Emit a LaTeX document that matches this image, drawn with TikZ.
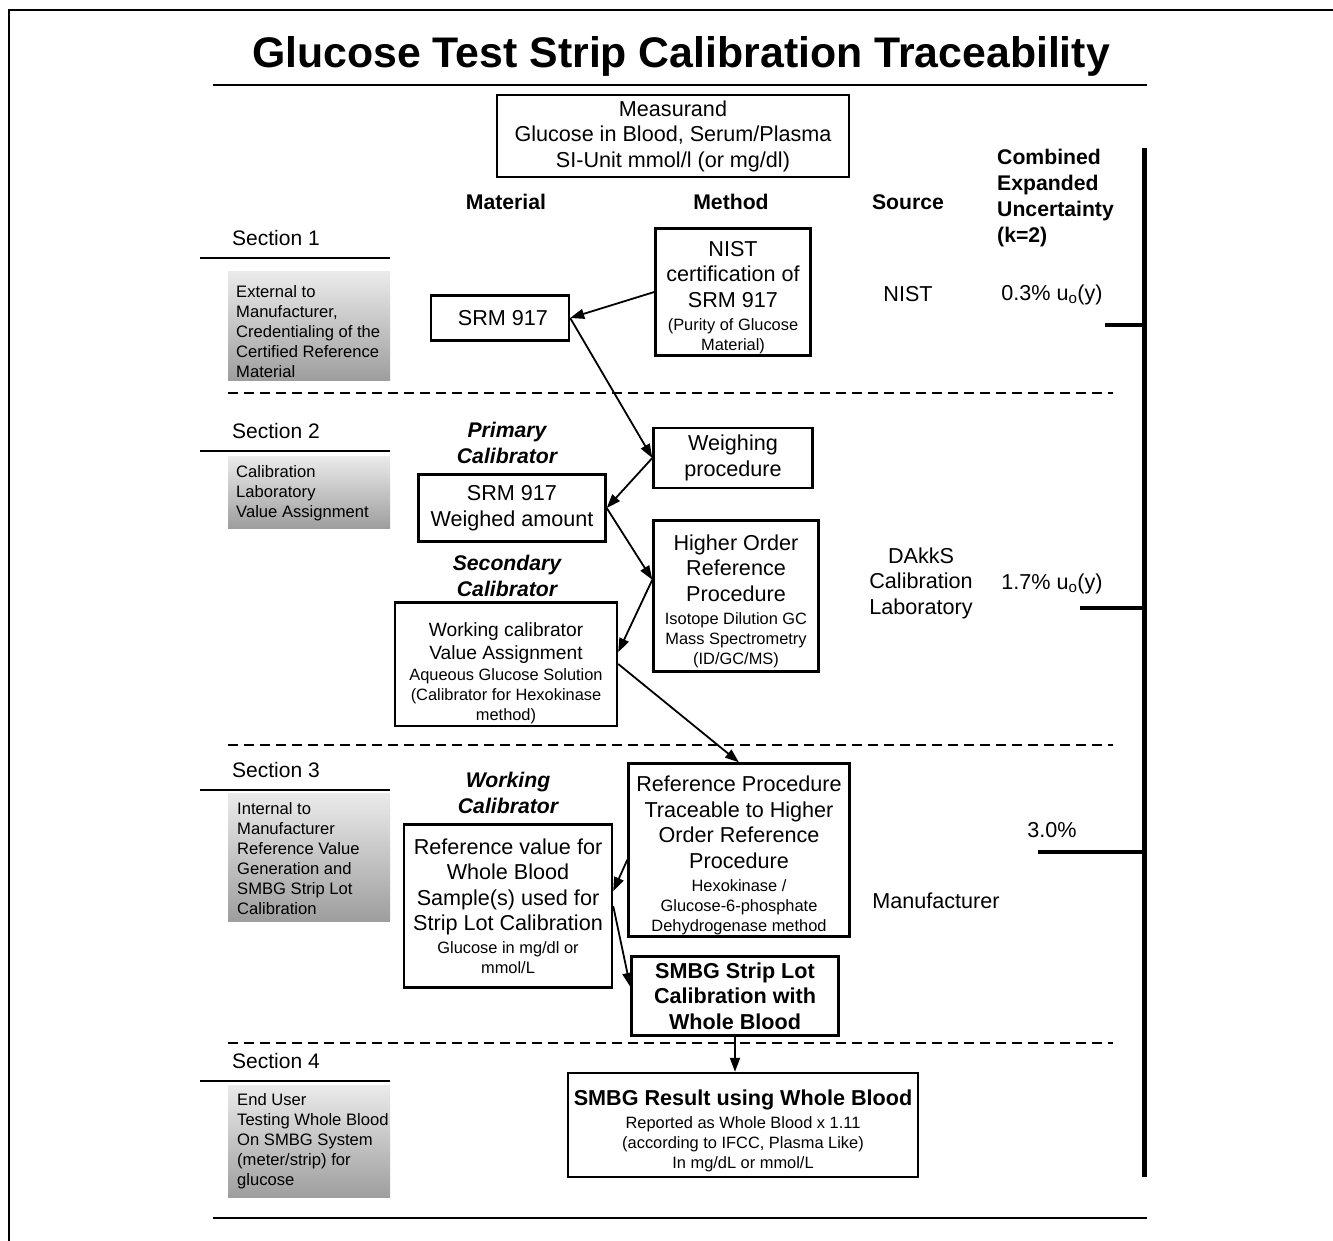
\documentclass[tikz,border=0pt]{standalone}
\usepackage{fontspec}
\setmainfont{Liberation Sans}
\usetikzlibrary{arrows.meta}

\newcommand\bigtxt{\fontsize{21.6}{25.5}\selectfont}
\newcommand\midtxt{\fontsize{19.2}{23}\selectfont}
\newcommand\smalltxt{\fontsize{16.4}{20}\selectfont}
\newcommand\greytxt{\fontsize{16.6}{20}\selectfont}
\newcommand\headtxt{\fontsize{21.2}{26}\selectfont\bfseries}
\newcommand\topgap[1]{\rule{0pt}{#1}}

\begin{document}
\begin{tikzpicture}[x=1pt,y=-1pt]
  \useasboundingbox (0,0) rectangle (1333,1241);

  % frame and rules
  \draw[line width=2pt] (9,1241) -- (9,10) -- (1333,10);
  \node[font=\fontsize{42.8}{50}\selectfont\bfseries] (title) at (681,56) {Glucose Test Strip Calibration Traceability};
  \draw[line width=2pt] (213,85) -- (1147,85);
  \draw[line width=2pt] (213,1218) -- (1147,1218);

  \begin{scope}[dash pattern=on 10pt off 6pt, line width=2pt]
    \draw (228,393) -- (1113,393);
    \draw (228,745) -- (1113,745);
    \draw (228,1043) -- (1113,1043);
  \end{scope}

  % sections
  \begin{scope}[every node/.style={font=\fontsize{21}{25}\selectfont, anchor=west, inner sep=0pt}]
    \node (s1) at (232,238) {Section 1};
    \node (s2) at (232,431) {Section 2};
    \node (s3) at (232,770) {Section 3};
    \node (s4) at (232,1061) {Section 4};
  \end{scope}
  \foreach \y in {258,451,790,1081}
    \draw[line width=2pt] (200,\y) -- (390,\y);

  \shade[top color=black!8, bottom color=black!38] (228,272) rectangle (390,380);
  \shade[top color=black!8, bottom color=black!38] (228,456) rectangle (390,528);
  \shade[top color=black!8, bottom color=black!38] (228,793) rectangle (390,921);
  \shade[top color=black!8, bottom color=black!38] (228,1085) rectangle (390,1197);

  \begin{scope}[every node/.style={font=\greytxt, align=left, anchor=north west, inner sep=0pt}]
    \node (g1) at (236,285) {External to\\Manufacturer,\\Credentialing of the\\Certified Reference\\Material};
    \node (g2) at (236,465) {Calibration\\Laboratory\\Value Assignment};
    \node (g3) at (237,802) {Internal to\\Manufacturer\\Reference Value\\Generation and\\SMBG Strip Lot\\Calibration};
    \node (g4) at (237,1093) {End User\\Testing Whole Blood\\On SMBG System\\(meter/strip) for\\glucose};
  \end{scope}

  % column heads
  \begin{scope}[every node/.style={font=\headtxt}]
    \node (mat) at (506,202) {Material};
    \node (meth) at (731,202) {Method};
    \node (src) at (908,202) {Source};
    \node[align=left, anchor=north west, inner sep=0pt] (unc) at (997,149) {Combined\\Expanded\\Uncertainty\\(k=2)};
  \end{scope}

  \begin{scope}[every node/.style={font=\headtxt\itshape, align=center}]
    \node (prim) at (507,443) {Primary\\Calibrator};
    \node (sec) at (507,576) {Secondary\\Calibrator};
    \node (work) at (508,793) {Working\\Calibrator};
  \end{scope}

  % sources and uncertainties
  \begin{scope}[every node/.style={font=\bigtxt, align=center}]
    \node (nistsrc) at (908,294) {NIST};
    \node (dakks) at (921,583) {DAkkS\\Calibration\\Laboratory};
    \node (manu) at (936,901) {Manufacturer};
    \node (u1) at (1052,295) {0.3\% u\textsubscript{o}(y)};
    \node (u2) at (1052,584) {1.7\% u\textsubscript{o}(y)};
    \node (u3) at (1052,830) {3.0\%};
  \end{scope}
  \draw[line width=5pt] (1144,148) -- (1144,1177);
  \draw[line width=4pt] (1105,325) -- (1144,325);
  \draw[line width=4pt] (1080,608) -- (1144,608);
  \draw[line width=4pt] (1038,852) -- (1144,852);

  % boxes
  \begin{scope}[every node/.style={draw, line width=2.4pt, align=center, font=\bigtxt, inner sep=2pt}]
    \node[minimum width=352pt, minimum height=82pt] (meas) at (673,136) {Measurand\\Glucose in Blood, Serum/Plasma\\SI-Unit mmol/l (or mg/dl)};
    \node[minimum width=138pt, minimum height=45pt] (srm) at (500,318) {\ SRM 917};
    \node[minimum width=155pt, minimum height=122pt] (nist) at (733,292) {\topgap{26pt}NIST\\certification of\\SRM 917\\[-2.5pt]\smalltxt (Purity of Glucose\\[-5.5pt]\smalltxt Material)};
    \node[minimum width=159pt, minimum height=60pt] (weigh) at (733,458) {Weighing\\procedure};
    \node[minimum width=187pt, minimum height=67pt] (weighed) at (512,508) {SRM 917\\Weighed amount};
    \node[minimum width=165pt, minimum height=151pt] (hiord) at (736,596) {\topgap{26pt}Higher Order\\Reference\\Procedure\\[-2.5pt]\smalltxt Isotope Dilution GC\\[-5.5pt]\smalltxt Mass Spectrometry\\[-5.5pt]\smalltxt (ID/GC/MS)};
    \node[minimum width=222pt, minimum height=117pt] (workcal) at (506,664) {\midtxt\topgap{32pt}Working calibrator\\[-2.5pt]\midtxt Value Assignment\\[-4.5pt]\smalltxt Aqueous Glucose Solution\\[-5.5pt]\smalltxt (Calibrator for Hexokinase\\[-5.5pt]\smalltxt method)};
    \node[minimum width=221pt, minimum height=170pt] (refproc) at (739,850) {\topgap{26pt}Reference Procedure\\Traceable to Higher\\Order Reference\\Procedure\\[-2.5pt]\smalltxt Hexokinase /\\[-5.5pt]\smalltxt Glucose-6-phosphate\\[-5.5pt]\smalltxt Dehydrogenase method};
    \node[minimum width=208pt, minimum height=163pt] (refval) at (508,906) {Reference value for\\Whole Blood\\Sample(s) used for\\Strip Lot Calibration\\[-2.5pt]\smalltxt Glucose in mg/dl or\\[-5.5pt]\smalltxt mmol/L};
    \node[minimum width=207pt, minimum height=79pt, font=\bigtxt\bfseries] (strip) at (735,996) {SMBG Strip Lot\\Calibration with\\Whole Blood};
    \node[minimum width=350pt, minimum height=104pt] (result) at (743,1125) {\topgap{28pt}\bfseries SMBG Result using Whole Blood\\[-2.5pt]\smalltxt Reported as Whole Blood x 1.11\\[-5.5pt]\smalltxt (according to IFCC, Plasma Like)\\[-5.5pt]\smalltxt In mg/dL or mmol/L};
  \end{scope}

  % traceability chain
  \begin{scope}[every edge/.style={draw, line width=1.8pt, -{Triangle[length=14pt,width=10pt]}}]
    \path (nist.west) edge (srm.east);
    \path (srm.east) edge (weigh.west);
    \path (weigh.west) edge (weighed.east);
    \path (weighed.east) edge (hiord.169);
    \path (hiord.169) edge (workcal.6);
    \path (workcal.east) edge (refproc.north);
    \path (refproc.185) edge (refval.8);
    \path (refval.east) edge (strip.175);
    \path (strip.south) edge (strip.south |- result.north);
  \end{scope}

\end{tikzpicture}
\end{document}
